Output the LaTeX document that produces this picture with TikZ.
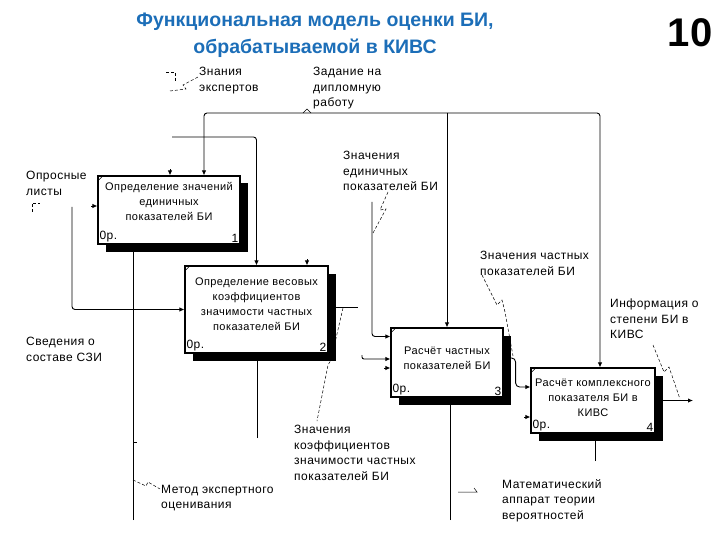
\documentclass[tikz,border=0pt]{standalone}
\usepackage{fontspec}
\setmainfont{Liberation Sans}
\newfontfamily\diagfont{Liberation Sans}[LetterSpace=4]
\usetikzlibrary{arrows.meta,shadows}
\definecolor{titleblue}{RGB}{28,110,184}

\begin{document}
\begin{tikzpicture}[
 x=1pt, y=-1pt,
 >={Latex[length=5pt,width=4.5pt]},
 link/.style={line width=0.9pt},
 squiggle/.style={densely dashed, line width=0.5pt},
 activity/.style={draw=black, fill=white, rectangle, line width=1.2pt, align=center,
   font=\diagfont\fontsize{11}{15}\selectfont,
   drop shadow={shadow xshift=7.5pt, shadow yshift=-7.5pt, fill=black, opacity=1}},
 note/.style={anchor=north west, align=left, inner sep=0pt, font=\diagfont\fontsize{12}{15.5}\selectfont},
 corner/.style={font=\diagfont\fontsize{12}{13}\selectfont, inner sep=2pt}
]
\useasboundingbox (0,0) rectangle (720,540);

% title
\node (title) [align=center, text=titleblue, font=\bfseries\fontsize{19.5}{27}\selectfont] at (315,35)
  {Функциональная модель оценки БИ,\\обрабатываемой в КИВС};
\node (page-num) [font=\bfseries\fontsize{40}{40}\selectfont] at (690,33) {10};

% activities
\node (activity1-box) [activity, minimum width=142pt, minimum height=68pt, text depth=17pt] at (169,210)
  {Определение значений\\единичных\\показателей БИ};
\node (activity2-box) [activity, minimum width=143pt, minimum height=87pt, text depth=11pt] at (256.5,309.5)
  {Определение весовых\\коэффициентов\\значимости частных\\показателей БИ};
\node (activity3-box) [activity, minimum width=112pt, minimum height=69pt, text depth=8pt] at (447,362.5)
  {Расчёт частных\\показателей БИ};
\node (activity4-box) [activity, minimum width=124pt, minimum height=65pt, text depth=5pt, inner xsep=1pt] at (593,400.5)
  {Расчёт комплексного\\показателя БИ в\\КИВС};
\foreach \i in {1,...,4} {
  \node (activity\i-cost) [corner, anchor=south west] at (activity\i-box.south west) {0р.};
  \node (activity\i-num) [corner, anchor=south east] at (activity\i-box.south east) {\i};
  \draw [line width=0.6pt] (activity\i-box.north west) ++(0,6) -- ++(6,-6);
}

% notes
\node (know-note) [note] at (199,67) {Знания\\экспертов};
\node (task-note) [note] at (313,67) {Задание на\\дипломную\\работу};
\node (survey-note) [note] at (26,171) {Опросные\\листы};
\node (unit-note) [note] at (343,151) {Значения\\единичных\\показателей БИ};
\node (partial-note) [note] at (480,251) {Значения частных\\показателей БИ};
\node (info-note) [note] at (610,299) {Информация о\\степени БИ в\\КИВС};
\node (szi-note) [note] at (26,337) {Сведения о\\составе СЗИ};
\node (coef-note) [note] at (294,425) {Значения\\коэффициентов\\значимости частных\\показателей БИ};
\node (method-note) [note] at (161,485) {Метод экспертного\\оценивания};
\node (math-note) [note] at (502,479) {Математический\\аппарат теории\\вероятностей};

% controls
\coordinate (task) at (447,113);
\draw [link, ->, rounded corners=3pt] (task) -| ([xshift=35pt]activity1-box.north);
\draw [link, ->, rounded corners=3pt] (task) -| ([xshift=7pt]activity4-box.north);
\draw [link, ->] (task) -- (activity3-box.north);
\draw [line width=0.5pt] (303,113) -- (307,109) -- (311,113);
\coordinate (expert-in) at (172,137);
\draw [link, ->, rounded corners=3pt] (expert-in) -| (activity2-box.north);
\draw [link, ->] ([xshift=1pt,yshift=6pt]activity1-box.north) -- ([xshift=1pt]activity1-box.north);
\draw [link, ->] ([xshift=50.5pt,yshift=6pt]activity2-box.north) -- ([xshift=50.5pt]activity2-box.north);

% inputs
\coordinate (survey-in) at (72,207);
\draw [link, ->, rounded corners=3pt] (survey-in) |- (activity2-box.west);
\draw [link, ->] ([xshift=-6pt,yshift=4pt]activity1-box.west) -- ([yshift=4pt]activity1-box.west);
\coordinate (unit-in) at (372,202);
\draw [link, ->, rounded corners=3pt] (unit-in) |- ([yshift=26pt]activity3-box.west);
\coordinate (coef-in) at (362,355);
\draw [link, ->, rounded corners=2pt] (coef-in) |- ([yshift=3.5pt]activity3-box.west);
\draw [link, ->] ([xshift=-6pt,yshift=-5.5pt]activity3-box.west) -- ([yshift=-5.5pt]activity3-box.west);
\draw [link, ->] ([xshift=-6pt,yshift=-16.5pt]activity4-box.west) -- ([yshift=-16.5pt]activity4-box.west);

% outputs
\coordinate (coef-out) at (358,307);
\draw [link] ([yshift=2.5pt]activity2-box.east) -- (coef-out);
\draw [link, ->, rounded corners=4pt] ([yshift=4.5pt]activity3-box.east) -- ++(12,0) |- ([yshift=13.5pt]activity4-box.west);
\coordinate (result-out) at (693,400.5);
\draw [link, ->] (activity4-box.east) -- (result-out);

% mechanisms
\coordinate (method-in) at (133,520);
\draw [link, ->] (method-in) -- (method-in |- activity1-box.south);
\draw [link] (133,442) -- (137,442);
\coordinate (szi-in) at (257,438);
\draw [link, ->] (szi-in) -- (szi-in |- activity2-box.south);
\coordinate (math-in) at (450,520);
\draw [link, ->] (math-in) -- (math-in |- activity3-box.south);
\coordinate (prob-in) at (595,461);
\draw [link, ->] (prob-in) -- (prob-in |- activity4-box.south);

% squiggles
\draw [squiggle] (166,72) -- (175,72) -- (175,81);
\draw [squiggle] (170,91) -- (186,89) -- (183,85) -- (198,77);
\draw [squiggle] (32,212) -- (32,203) -- (40,203);
\draw [squiggle] (388,192) -- (380,210) -- (386,209) -- (373,233);
\draw [squiggle] (482,275) -- (497,305) -- (502,300) -- (505,312) -- (513,356);
\draw [squiggle] (653,345) -- (664,372) -- (669,367) -- (680,399);
\draw [squiggle] (343,308) -- (331,360) -- (328,365) -- (317,421);
\draw [squiggle] (133,480) -- (146,486) -- (148,482) -- (160,489);
\draw [line width=0.5pt] (458,492) -- (477,492) -- (474,488);
\end{tikzpicture}
\end{document}
